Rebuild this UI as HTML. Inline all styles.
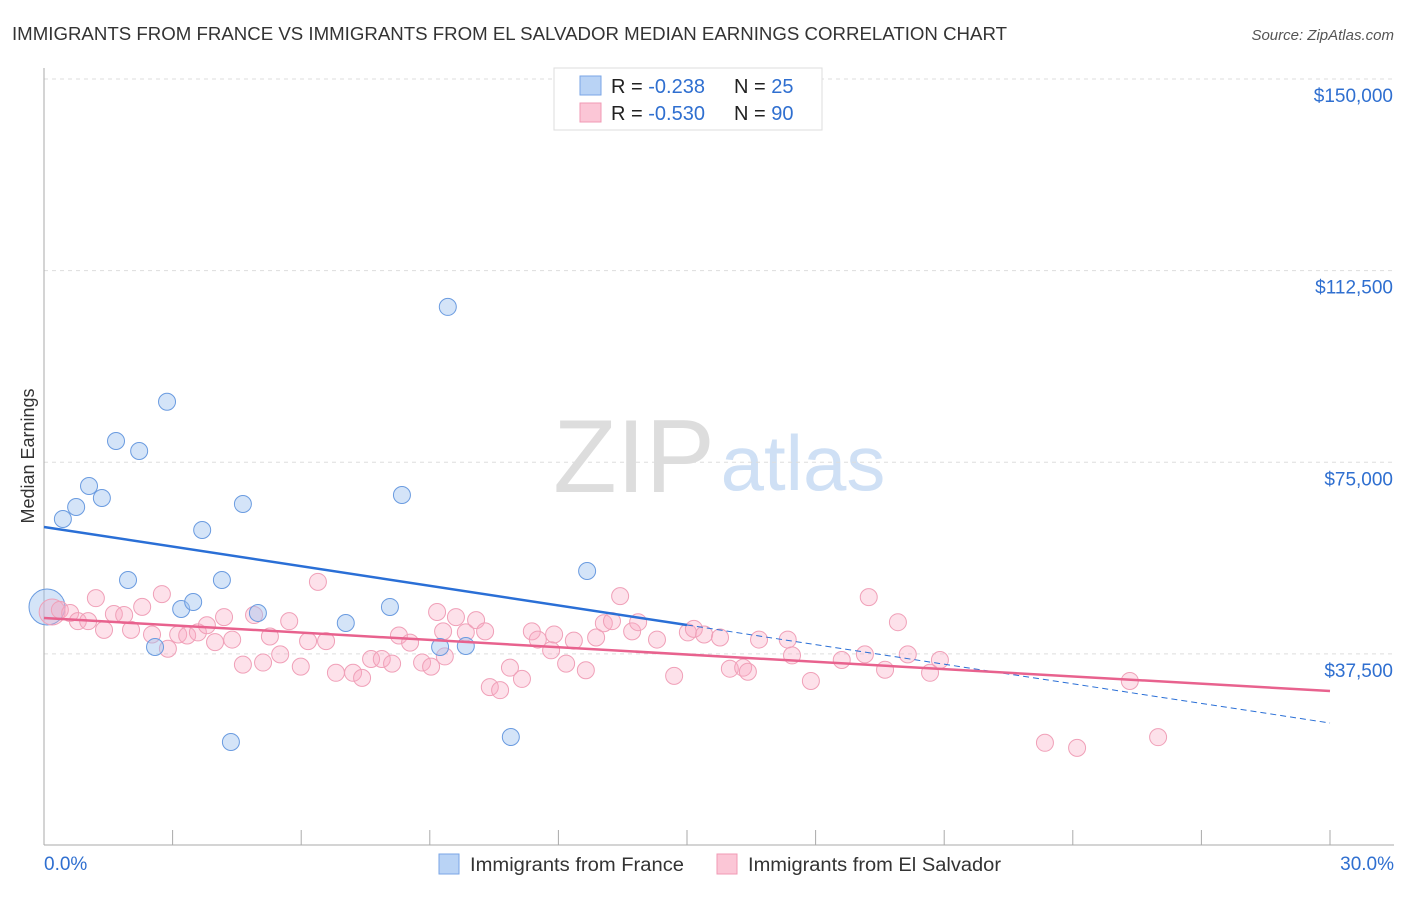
<!DOCTYPE html>
<html><head><meta charset="utf-8"><style>
body{margin:0;background:#fff;font-family:"Liberation Sans",sans-serif;}
svg text{font-family:"Liberation Sans",sans-serif;}
</style></head><body>
<svg id="chart" width="1406" height="892" xmlns="http://www.w3.org/2000/svg">
<text x="12" y="40" font-size="18" fill="#333" textLength="995" lengthAdjust="spacingAndGlyphs">IMMIGRANTS FROM FRANCE VS IMMIGRANTS FROM EL SALVADOR MEDIAN EARNINGS CORRELATION CHART</text>
<text x="1394" y="40" font-size="15" fill="#555" font-style="italic" text-anchor="end">Source: ZipAtlas.com</text>
<text x="34" y="456" font-size="18" fill="#333" text-anchor="middle" transform="rotate(-90 34 456)">Median Earnings</text>
<g><text x="634" y="492" font-size="104" fill="#ddd" text-anchor="middle" font-family="Liberation Serif,serif">ZIP</text><text x="803" y="490" font-size="78" fill="#cfe0f5" text-anchor="middle">atlas</text></g>
<g id="grid"></g><g id="axes"></g><g id="marks"></g>
<g>
<rect x="554" y="68" width="268" height="62" fill="#fff" stroke="#ddd"/>
<rect x="580" y="76" width="21" height="19" fill="#b9d3f5" stroke="#7aa6e6"/>
<rect x="580" y="103" width="21" height="19" fill="#fbc6d6" stroke="#f09ab4"/>
<text x="611" y="93" font-size="20" fill="#222">R = <tspan fill="#2f6fd0">-0.238</tspan><tspan x="734">N = </tspan><tspan fill="#2f6fd0">25</tspan></text>
<text x="611" y="120" font-size="20" fill="#222">R = <tspan fill="#2f6fd0">-0.530</tspan><tspan x="734">N = </tspan><tspan fill="#2f6fd0">90</tspan></text>
</g>
<g>
<rect x="439" y="854" width="20" height="20" fill="#b9d3f5" stroke="#7aa6e6"/>
<text x="470" y="871" font-size="19" fill="#333" textLength="214" lengthAdjust="spacingAndGlyphs">Immigrants from France</text>
<rect x="717" y="854" width="20" height="20" fill="#fbc6d6" stroke="#f09ab4"/>
<text x="748" y="871" font-size="19" fill="#333" textLength="253" lengthAdjust="spacingAndGlyphs">Immigrants from El Salvador</text>
</g>
</svg>
<script>
const yTicks=[37500,75000,112500,150000];
const yTickLabels=["$37,500","$75,000","$112,500","$150,000"];
const xTickLabels=["0.0%","30.0%"];
const franceX=[0.07,0.44,0.75,1.05,1.35,1.68,1.96,2.22,2.59,2.87,3.20,3.48,3.69,4.15,4.36,4.64,4.99,7.04,8.07,8.35,9.24,9.42,9.84,10.89,12.67];
const franceY=[46675,63900,66240,70350,68000,79160,51960,77200,38850,86840,46280,47650,61740,51960,20250,66830,45500,43540,46680,68590,38850,105400,39040,21230,53720];
const salvX=[0.19,0.37,0.61,0.79,1.03,1.21,1.40,1.63,1.87,2.03,2.29,2.52,2.75,2.89,3.13,3.34,3.59,3.80,3.99,4.20,4.39,4.64,4.90,5.11,5.27,5.51,5.72,5.99,6.16,6.39,6.58,6.81,7.21,7.42,7.63,7.88,8.12,8.28,8.54,8.82,9.03,9.17,9.31,9.35,9.61,9.84,10.08,10.29,10.40,10.64,10.87,11.15,11.38,11.52,11.83,11.90,12.18,12.36,12.64,12.88,13.06,13.25,13.44,13.72,13.86,14.30,14.70,15.02,15.16,15.40,15.77,16.00,16.31,16.42,16.68,17.35,17.45,17.89,18.61,19.15,19.24,19.62,19.92,20.15,20.67,20.90,23.35,24.10,25.33,25.99];
const salvY=[45.7,46.1,45.5,43.9,43.9,48.4,42.2,45.3,45.1,42.2,46.7,41.3,49.2,38.5,41.3,41.1,41.7,43.1,39.8,44.7,40.3,35.4,45.1,35.8,40.9,37.4,43.9,35.0,40.0,51.6,40.0,33.8,33.8,32.8,36.5,36.5,35.6,41.1,39.7,35.8,35.0,45.7,41.9,37.0,44.7,41.7,44.1,41.9,31.0,30.4,34.8,32.6,41.9,40.3,38.2,41.3,35.6,40.1,34.3,40.7,43.5,43.9,48.8,41.9,43.7,40.3,33.2,41.7,42.4,41.3,40.7,34.6,34.8,34.0,40.3,40.3,37.2,32.2,36.3,37.4,48.6,34.4,43.7,37.4,33.8,36.3,20.1,19.1,32.2,21.2].map(v=>v*1000);
const franceTrend=[62330,23970];
const salvTrend=[44520,30230];
const NS='http://www.w3.org/2000/svg';
const X=v=>44+v/30*1286, Y=v=>845.5-v/150000*766.5;
function mk(tag,attrs,parent){const e=document.createElementNS(NS,tag);for(const k in attrs)e.setAttribute(k,attrs[k]);document.getElementById(parent).appendChild(e);return e;}
yTicks.forEach((t,i)=>{
  const l=mk('line',{x1:44,x2:1394,y1:Y(t),y2:Y(t),stroke:'#ddd','stroke-dasharray':'4 4'},'grid');
  
  
  const tx=mk('text',{x:1393,y:Y(t)+23,'font-size':19,fill:'#2f6fd0','text-anchor':'end'},'axes');
  tx.textContent=yTickLabels[i];
  
  
});
const ax=mk('line',{x1:44,x2:44,y1:68,y2:845,stroke:'#aaa'},'axes');


const bx=mk('line',{x1:44,x2:1394,y1:845,y2:845,stroke:'#aaa'},'axes');


for(let i=1;i<=10;i++){const t=mk('line',{x1:X(i*3),x2:X(i*3),y1:830,y2:845,stroke:'#aaa'},'axes');
  
  }
[[0,'start',44],[30,'end',1394]].forEach((d,i)=>{const t=mk('text',{x:d[2],y:870,'font-size':19,fill:'#2f6fd0','text-anchor':d[1]},'axes');t.textContent=xTickLabels[i];
  
  });
franceX.forEach((x,i)=>{if(i!=0)return;const c=mk('circle',{cx:X(x),cy:Y(franceY[i]),r:18,fill:'rgba(160,196,240,0.45)',stroke:'#6a9be0','stroke-width':1},'marks');
  
  });
salvX.forEach((x,i)=>{const c=mk('circle',{cx:X(x),cy:Y(salvY[i]),r:i==0?13:8.5,fill:'rgba(248,170,195,0.35)',stroke:'#f0a0b8','stroke-width':1},'marks');
  
  });
franceX.forEach((x,i)=>{if(i==0)return;const c=mk('circle',{cx:X(x),cy:Y(franceY[i]),r:8.5,fill:'rgba(160,196,240,0.45)',stroke:'#6a9be0','stroke-width':1},'marks');
  
  });
const fy=x=>franceTrend[0]+(franceTrend[1]-franceTrend[0])*x/30;
const t1=mk('line',{x1:X(0),y1:Y(fy(0)),x2:X(15),y2:Y(fy(15)),stroke:'#2a6fd6','stroke-width':2.5},'marks');


const t2=mk('line',{x1:X(15),y1:Y(fy(15)),x2:X(30),y2:Y(fy(30)),stroke:'#2a6fd6','stroke-width':1,'stroke-dasharray':'6 4'},'marks');


const t3=mk('line',{x1:X(0),y1:Y(salvTrend[0]),x2:X(30),y2:Y(salvTrend[1]),stroke:'#e8628e','stroke-width':2.5},'marks');


</script>
</body></html>
